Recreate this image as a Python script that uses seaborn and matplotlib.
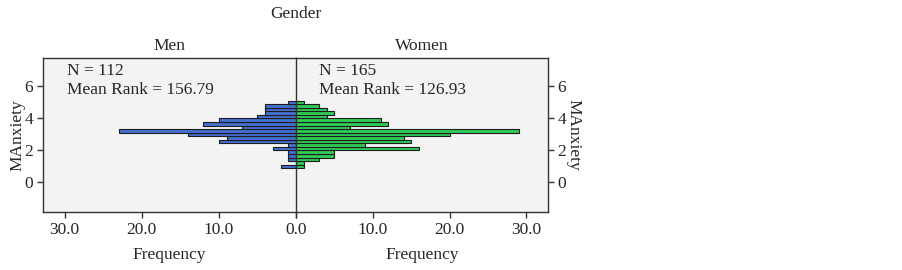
import numpy as np
import pandas as pd
import matplotlib
matplotlib.use("Agg")
import matplotlib.pyplot as plt
import seaborn as sns

# --- Data (bins listed top to bottom) ---
bin_centers = [4.97, 4.75, 4.53, 4.30, 4.08, 3.86, 3.64, 3.42, 3.19, 2.97,
               2.75, 2.53, 2.30, 2.08, 1.86, 1.64, 1.42, 1.19, 0.97]
men_counts = [1, 4, 4, 4, 5, 10, 12, 7, 23, 14, 9, 10, 1, 3, 1, 1, 1, 0, 2]
women_counts = [1, 3, 4, 5, 4, 11, 12, 7, 29, 20, 14, 15, 9, 16, 5, 5, 3, 1, 1]
groups = ["Men", "Women"]
group_n = ["N = 112", "N = 165"]
group_rank = ["Mean Rank = 156.79", "Mean Rank = 126.93"]
freq_ticks = [0, 10, 20, 30]
anx_ticks = [0, 2, 4, 6]

df = pd.DataFrame({
    "MAnxiety": bin_centers * 2,
    "Frequency": men_counts + women_counts,
    "Gender": ["Men"] * len(men_counts) + ["Women"] * len(women_counts),
})

sns.set_style("ticks")
plt.rcParams["font.family"] = ["Liberation Serif", "DejaVu Serif"]
plt.rcParams["font.size"] = 12.5

colors = {"Men": "#4470d0", "Women": "#2ecc55"}
W, H = 903, 270
fig = plt.figure(figsize=(W / 100, H / 100), dpi=100)
ax_m = fig.add_axes([43 / W, 1 - 212 / H, 253 / W, 154 / H])
ax_w = fig.add_axes([296 / W, 1 - 212 / H, 252 / W, 154 / H])

for ax, g, n_txt, r_txt, tx in zip([ax_m, ax_w], groups, group_n, group_rank, [0.095, 0.091]):
    sns.histplot(data=df[df["Gender"] == g], y="MAnxiety", weights="Frequency",
                 bins=19, binrange=(0.86, 5.08), color=colors[g], alpha=1,
                 edgecolor="#1c1c1c", linewidth=0.8, ax=ax)
    ax.set_facecolor("#f3f3f3")
    ax.set_ylim(-1.875, 7.75)
    ax.set_yticks(anx_ticks)
    ax.set_xticks(freq_ticks)
    ax.set_xlabel("Frequency", labelpad=7)
    ax.set_title(g, pad=6, fontsize=12.5)
    ax.tick_params(direction="out", length=4, width=1, color="#333333", pad=3)
    for s in ax.spines.values():
        s.set_color("#333333")
        s.set_linewidth(1)
    ax.text(tx, 0.915, n_txt, transform=ax.transAxes, va="center")
    ax.text(tx, 0.79, r_txt, transform=ax.transAxes, va="center")

ax_m.set_xlim(32.8, 0)
ax_w.set_xlim(0, 32.8)
# one shared "0.0" at the centre line
ax_m.set_xticklabels(["" if t == 0 else f"{t:.1f}" for t in freq_ticks])
ax_w.set_xticklabels([f"{t:.1f}" for t in freq_ticks])
ax_m.spines["right"].set_visible(False)
ax_m.set_ylabel("MAnxiety", labelpad=-1)
ax_w.yaxis.tick_right()
ax_w.yaxis.set_label_position("right")
ax_w.set_ylabel("MAnxiety", rotation=270, labelpad=11)

fig.text(296 / W, 1 - 14 / H, "Gender", ha="center", va="center", fontsize=12.5)

fig.savefig("out.png", dpi=100)
